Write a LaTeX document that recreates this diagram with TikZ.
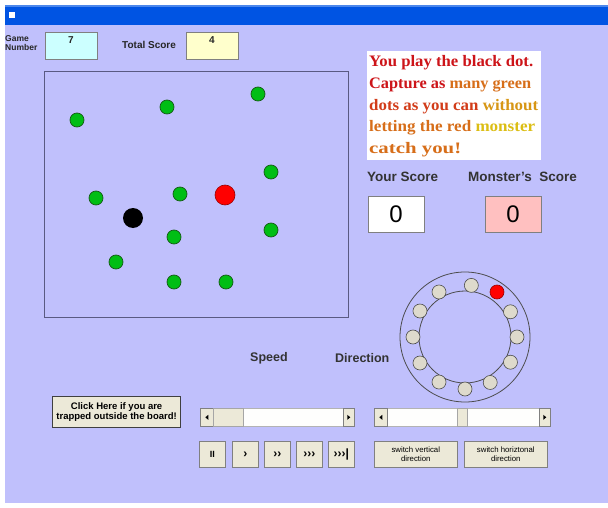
\documentclass[tikz,border=0pt]{standalone}
\usepackage{fontspec}
\usetikzlibrary{calc}
\setmainfont{Liberation Sans}
\newfontfamily\seriffont{Liberation Serif}
\definecolor{lav}{RGB}{192,192,252}
\definecolor{titleblue}{RGB}{0,84,227}
\definecolor{btnbg}{RGB}{236,233,216}
\definecolor{btnedge}{RGB}{128,128,128}
\definecolor{boardedge}{RGB}{90,90,130}
\definecolor{dotgreen}{RGB}{0,190,20}
\definecolor{dotgreenedge}{RGB}{20,90,20}
\definecolor{ringdot}{RGB}{222,218,204}
\definecolor{cyanbox}{RGB}{204,255,255}
\definecolor{yelbox}{RGB}{255,255,204}
\definecolor{pinkbox}{RGB}{255,192,192}
\definecolor{ta}{RGB}{205,20,25}
\definecolor{tb}{RGB}{210,60,25}
\definecolor{tc}{RGB}{215,110,25}
\definecolor{td}{RGB}{215,150,20}
\definecolor{te}{RGB}{220,190,20}
\tikzset{
  x=1pt, y=-1pt,
  lbl/.style={font=\bfseries\fontsize{10}{11}\selectfont, inner sep=0, text=black!85},
  biglbl/.style={font=\bfseries\fontsize{13.5}{15}\selectfont, inner sep=0, text=black!80},
  midlbl/.style={font=\bfseries\fontsize{12.5}{14}\selectfont, inner sep=0, text=black!80},
  instrline/.style={font=\seriffont\bfseries\fontsize{16}{18}\selectfont, inner sep=0, anchor=west},
  valbox/.style={draw=btnedge, line width=0.6pt, inner sep=0, anchor=north west},
  gdot/.style={circle, fill=dotgreen, draw=dotgreenedge, line width=0.7pt, minimum size=14pt, inner sep=0},
  rdot/.style={circle, fill=ringdot, draw=black!70, line width=0.6pt, minimum size=14pt, inner sep=0},
  btn/.style={draw=btnedge, fill=btnbg, line width=0.6pt, inner sep=0, anchor=north west},
  btnsym/.style={font=\bfseries\fontsize{12}{13}\selectfont, inner sep=0},
  smalltxt/.style={font=\fontsize{7.8}{9}\selectfont, align=center, inner sep=0},
}
\begin{document}
\begin{tikzpicture}
\useasboundingbox (0,0) rectangle (608,508);
\fill[white] (0,0) rectangle (608,508);
% window background
\fill[lav] (5,25) rectangle (608,503);
% title bar
\fill[titleblue] (5,5) rectangle (608,25);
\fill[titleblue!70!white] (5,5) rectangle (608,7);
\node[fill=white, minimum size=6pt, inner sep=0] (icon) at (12,15) {};
% top fields
\node[lbl, font=\bfseries\fontsize{8.5}{9}\selectfont, align=left, anchor=west] (gamelbl) at (5,43) {Game\\Number};
\node[valbox, fill=cyanbox, minimum width=52pt, minimum height=27pt] (gamebox) at (45,32) {};
\node[lbl] (gameval) at (71,40) {7};
\node[lbl, anchor=west] (totlbl) at (122,45) {Total Score};
\node[valbox, fill=yelbox, minimum width=52pt, minimum height=27pt] (totbox) at (186,32) {};
\node[lbl] (totval) at (212,40) {4};
% board
\node[draw=boardedge, line width=1pt, fill=lav, minimum width=304pt, minimum height=246pt, inner sep=0, anchor=north west] (board) at (44,71) {};
\node[gdot] (g1) at (77,120) {};
\node[gdot] (g2) at (167,107) {};
\node[gdot] (g3) at (258,94) {};
\node[gdot] (g4) at (271,172) {};
\node[gdot] (g5) at (96,198) {};
\node[gdot] (g6) at (180,194) {};
\node[gdot] (g7) at (174,237) {};
\node[gdot] (g8) at (271,230) {};
\node[gdot] (g9) at (116,262) {};
\node[gdot] (g10) at (174,282) {};
\node[gdot] (g11) at (226,282) {};
\node[circle, fill=red, draw=red!60!black, line width=0.6pt, minimum size=20pt, inner sep=0] (monster) at (225,195) {};
\node[circle, fill=black, minimum size=20pt, inner sep=0] (player) at (133,218) {};
% instructions
\node[fill=white, minimum width=174pt, minimum height=109pt, inner sep=0, anchor=north west] (instr) at (367,51) {};
\node[instrline] (il1) at (369,63) {\resizebox{164pt}{\height}{\textcolor{ta}{You play the black dot.}}};
\node[instrline] (il2) at (369,85) {\resizebox{162pt}{\height}{\textcolor{ta}{Capture as} \textcolor{tc}{many green}}};
\node[instrline] (il3) at (369,107) {\resizebox{169pt}{\height}{\textcolor{tb}{dots as you can} \textcolor{td}{without}}};
\node[instrline] (il4) at (369,128) {\resizebox{166pt}{\height}{\textcolor{tc}{letting the red} \textcolor{te}{monster}}};
\node[instrline] (il5) at (369,150) {\resizebox{92pt}{\height}{\textcolor{tc}{catch you!}}};
% scores
\node[biglbl, anchor=west] (yourlbl) at (367,177) {Your Score};
\node[biglbl, anchor=west] (monlbl) at (468,177) {Monster's\ \ Score};
\node[valbox, fill=white, minimum width=56pt, minimum height=36pt] (yourbox) at (368,196) {};
\node[font=\fontsize{24}{26}\selectfont, inner sep=0] (yourval) at (396,214) {0};
\node[valbox, fill=pinkbox, minimum width=56pt, minimum height=36pt] (monbox) at (485,196) {};
\node[font=\fontsize{24}{26}\selectfont, inner sep=0] (monval) at (513,214) {0};
% direction ring
\coordinate (rc) at (465,337);
\draw[black!70, line width=0.8pt] (rc) circle (65);
\draw[black!70, line width=0.8pt] (rc) circle (46);
\foreach \a [count=\i] in {0,29,83,120,150,180,210,240,270,299,331}{
  \node[rdot] (rd\i) at ($(rc)+(\a:52 and -52)$) {};
}
\node[circle, fill=red, draw=red!60!black, line width=0.6pt, minimum size=14pt, inner sep=0] (rdred) at (497,292) {};
% speed / direction labels
\node[midlbl, anchor=west] (speedlbl) at (250,358) {Speed};
\node[midlbl, anchor=west] (dirlbl) at (335,358) {Direction};
% trapped button
\node[btn, draw=black!75, line width=1.2pt, minimum width=128pt, minimum height=31pt] (trapbtn) at (52,396) {};
\node[font=\bfseries\fontsize{9.5}{10.5}\selectfont, align=center, inner sep=0] (traptxt) at (trapbtn.center) {Click Here if you are\\trapped outside the board!};
% scrollbar 1
\node[draw=btnedge!60, fill=white!96!btnbg, minimum width=154pt, minimum height=18pt, inner sep=0, anchor=north west] (sb1) at (200,408) {};
\node[btn, minimum width=13pt, minimum height=18pt] (sb1l) at (200,408) {};
\node[btn, minimum width=11pt, minimum height=18pt] (sb1r) at (343,408) {};
\node[btn, draw=btnedge!70, minimum width=30pt, minimum height=18pt] (sb1t) at (213,408) {};
\fill (sb1l.center) ++(-1.5,0) -- ++(3,-2.5) -- ++(0,5) -- cycle;
\fill (sb1r.center) ++(1.5,0) -- ++(-3,-2.5) -- ++(0,5) -- cycle;
% scrollbar 2
\node[draw=btnedge!60, fill=white!96!btnbg, minimum width=176pt, minimum height=18pt, inner sep=0, anchor=north west] (sb2) at (374,408) {};
\node[btn, minimum width=13pt, minimum height=18pt] (sb2l) at (374,408) {};
\node[btn, minimum width=11pt, minimum height=18pt] (sb2r) at (539,408) {};
\node[btn, draw=btnedge!70, minimum width=10pt, minimum height=18pt] (sb2t) at (457,408) {};
\fill (sb2l.center) ++(-1.5,0) -- ++(3,-2.5) -- ++(0,5) -- cycle;
\fill (sb2r.center) ++(1.5,0) -- ++(-3,-2.5) -- ++(0,5) -- cycle;
% speed buttons
\node[btn, minimum width=26pt, minimum height=26pt] (bpause) at (199,441) {};
\node[btnsym, font=\bfseries\fontsize{9}{10}\selectfont] at (bpause.center) {II};
\node[btn, minimum width=26pt, minimum height=26pt] (b1) at (232,441) {};
\node[btnsym] at (b1.center) {›};
\node[btn, minimum width=26pt, minimum height=26pt] (b2) at (264,441) {};
\node[btnsym] at (b2.center) {››};
\node[btn, minimum width=26pt, minimum height=26pt] (b3) at (296,441) {};
\node[btnsym] at (b3.center) {›››};
\node[btn, minimum width=26pt, minimum height=26pt] (b4) at (328,441) {};
\node[btnsym] at (b4.center) {›››|};
% switch buttons
\node[btn, minimum width=83pt, minimum height=26pt] (swv) at (374,441) {};
\node[smalltxt] at (swv.center) {switch vertical\\direction};
\node[btn, minimum width=83pt, minimum height=26pt] (swh) at (464,441) {};
\node[smalltxt] at (swh.center) {switch horiztonal\\direction};
\end{tikzpicture}
\end{document}
